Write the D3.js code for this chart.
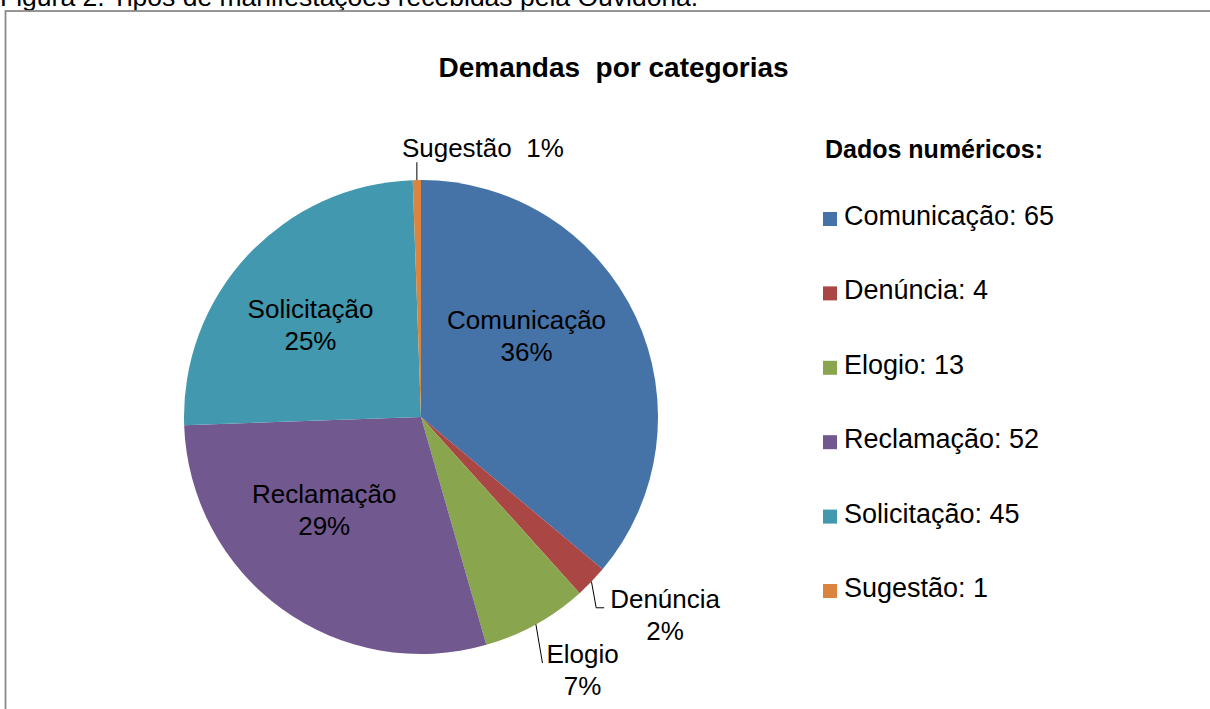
<!DOCTYPE html>
<html>
<head>
<meta charset="utf-8">
<script src="https://cdn.jsdelivr.net/npm/d3@7"></script>
<style>
	body { margin: 0; background: #fff; overflow: hidden; }
	svg { display: block; }
	text { font-family: "Liberation Sans", Arial, sans-serif; fill: #000; }
</style>
</head>
<body>
<div id="chart"></div>
<script>
	// data
	var categories = ['Comunicação', 'Denúncia', 'Elogio', 'Reclamação', 'Solicitação', 'Sugestão'];
	var values = [65, 4, 13, 52, 45, 1];
	var colors = ['#4572A7', '#AA4643', '#89A54E', '#71588F', '#4198AF', '#DB843D'];
	var chartTitle = 'Demandas  por categorias';
	var legendTitle = 'Dados numéricos:';
	var caption = 'Figura 2. Tipos de manifestações recebidas pela Ouvidoria.';

	// properties
	var width = 1210;
	var height = 709;
	var cx = 421, cy = 417, radius = 237;
	var fontSize = 26;
	var legendFontSize = 27;
	var linePitch = 32;

	// label placement: inside labels sit near the centroid, outside ones get a leader line
	var labelLayout = [
		{inside: true, dx: -19, dy: -24},
		{inside: false, dx: 31, dy: -9, leader: 'elbow'},
		{inside: false, dx: 18, dy: -7, leader: 'straight'},
		{inside: true, dx: -16, dy: -19},
		{inside: true, dx: -10, dy: 1},
		{inside: false, dx: 67, dy: 27, leader: 'vertical', oneLine: true}
	];

	var total = d3.sum(values);
	var data = categories.map(function (c, i) { return {name: c, value: values[i], color: colors[i], i: i}; });

	var svg = d3.select('#chart').append('svg')
		.attr('width', width).attr('height', height);

	// caption above the chart frame, cut off by the top edge as in the source
	svg.append('text')
		.attr('x', 0).attr('y', 6)
		.style('font-size', '26.5px')
		.text(caption);

	// chart frame
	svg.append('rect')
		.attr('x', 5.5).attr('y', 11)
		.attr('width', width + 20).attr('height', height + 20)
		.attr('fill', 'none')
		.attr('stroke', '#8a8a8a')
		.attr('stroke-width', 1.8);

	svg.append('text')
		.attr('x', 613.5).attr('y', 77)
		.attr('text-anchor', 'middle')
		.style('font-size', '28px')
		.style('font-weight', 'bold')
		.style('white-space', 'pre')
		.text(chartTitle);

	var pie = d3.pie().sort(null).value(function (d) { return d.value; });
	var arcs = pie(data);
	var arc = d3.arc().innerRadius(0).outerRadius(radius);
	var innerLabelArc = d3.arc().innerRadius(radius * 0.58).outerRadius(radius * 0.58);
	var outerLabelArc = d3.arc().innerRadius(radius * 1.25).outerRadius(radius * 1.25);

	var g = svg.append('g')
		.attr('transform', 'translate(' + [cx, cy] + ')');

	g.selectAll('.slice')
		.data(arcs).enter().append('path')
		.classed('slice', true)
		.attr('d', arc)
		.attr('fill', function (d) { return d.data.color; });

	var pct = function (v) { return Math.round(v / total * 100) + '%'; };

	arcs.forEach(function (d) {
		var lay = labelLayout[d.data.i];
		var c = (lay.inside ? innerLabelArc : outerLabelArc).centroid(d);
		var x = c[0] + lay.dx;
		var y = c[1] + lay.dy;
		var t = g.append('text')
			.attr('text-anchor', 'middle')
			.style('font-size', fontSize + 'px');
		var b1;
		if (lay.oneLine) {
			b1 = y + 9.5;
			t.attr('x', x).attr('y', b1).style('white-space', 'pre')
				.text(d.data.name + '  ' + pct(d.data.value));
		} else {
			b1 = y - 6;
			t.append('tspan').attr('x', x).attr('y', b1).text(d.data.name);
			t.append('tspan').attr('x', x).attr('y', b1 + linePitch).text(pct(d.data.value));
		}
		if (lay.inside) return;

		// leader line from the slice edge to the label
		var mid = (d.startAngle + d.endAngle) / 2;
		var p0 = d3.pointRadial(mid, radius);
		var w1 = t.select('tspan').empty() ? t.node().getComputedTextLength()
			: t.select('tspan').node().getComputedTextLength();
		var left = x - w1 / 2;
		var pts;
		if (lay.leader === 'elbow') pts = [p0, [left - 14, b1], [left - 6, b1]];
		else if (lay.leader === 'straight') pts = [p0, [left - 4, b1]];
		else pts = [p0, [p0[0], b1 + 5]];
		g.append('path')
			.attr('d', d3.line()(pts))
			.attr('fill', 'none')
			.attr('stroke', '#000')
			.attr('stroke-width', 1);
	});

	// legend
	svg.append('text')
		.attr('x', 825).attr('y', 158)
		.style('font-size', '25px')
		.style('font-weight', 'bold')
		.text(legendTitle);

	var legendY = d3.scalePoint().domain(categories).range([225, 597]);

	var items = svg.selectAll('.legendItem')
		.data(data).enter().append('g')
		.classed('legendItem', true)
		.attr('transform', function (d) { return 'translate(' + [823, legendY(d.name)] + ')'; });

	items.append('rect')
		.attr('x', 0).attr('y', -13)
		.attr('width', 14).attr('height', 14)
		.attr('fill', function (d) { return d.color; });

	items.append('text')
		.attr('x', 21).attr('y', 0)
		.style('font-size', legendFontSize + 'px')
		.text(function (d) { return d.name + ': ' + d.value; });
</script>
</body>
</html>
